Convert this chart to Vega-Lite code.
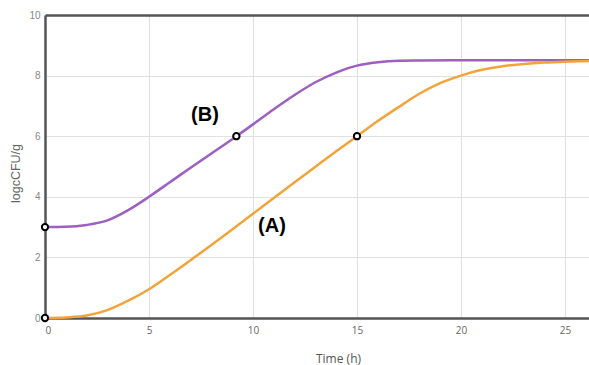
{
  "$schema": "https://vega.github.io/schema/vega-lite/v6.json",
  "width": 546,
  "height": 303,
  "autosize": "none",
  "padding": {"left": 45, "top": 15, "right": 0, "bottom": 47},
  "background": "white",
  "config": {"view": {"stroke": null}},
  "datasets": {
    "curves": [
      {"t": 0, "v": 3.0, "series": "B"}, {"t": 1, "v": 3.01, "series": "B"}, {"t": 2, "v": 3.07, "series": "B"},
      {"t": 3, "v": 3.22, "series": "B"}, {"t": 4, "v": 3.56, "series": "B"}, {"t": 5, "v": 4.0, "series": "B"},
      {"t": 6, "v": 4.48, "series": "B"}, {"t": 7, "v": 4.96, "series": "B"}, {"t": 8, "v": 5.43, "series": "B"},
      {"t": 9, "v": 5.9, "series": "B"}, {"t": 10, "v": 6.39, "series": "B"}, {"t": 11, "v": 6.89, "series": "B"},
      {"t": 12, "v": 7.36, "series": "B"}, {"t": 13, "v": 7.78, "series": "B"}, {"t": 14, "v": 8.1, "series": "B"},
      {"t": 15, "v": 8.33, "series": "B"}, {"t": 16, "v": 8.44, "series": "B"}, {"t": 17, "v": 8.49, "series": "B"},
      {"t": 18, "v": 8.5, "series": "B"}, {"t": 20, "v": 8.51, "series": "B"}, {"t": 23, "v": 8.51, "series": "B"},
      {"t": 26.3, "v": 8.51, "series": "B"},
      {"t": 0, "v": 0.0, "series": "A"}, {"t": 1, "v": 0.02, "series": "A"}, {"t": 2, "v": 0.08, "series": "A"},
      {"t": 3, "v": 0.26, "series": "A"}, {"t": 4, "v": 0.57, "series": "A"}, {"t": 5, "v": 0.95, "series": "A"},
      {"t": 6, "v": 1.42, "series": "A"}, {"t": 7, "v": 1.91, "series": "A"}, {"t": 8, "v": 2.41, "series": "A"},
      {"t": 9, "v": 2.92, "series": "A"}, {"t": 10, "v": 3.44, "series": "A"}, {"t": 11, "v": 3.96, "series": "A"},
      {"t": 12, "v": 4.48, "series": "A"}, {"t": 13, "v": 4.99, "series": "A"}, {"t": 14, "v": 5.5, "series": "A"},
      {"t": 15, "v": 6.0, "series": "A"}, {"t": 16, "v": 6.5, "series": "A"}, {"t": 17, "v": 6.96, "series": "A"},
      {"t": 18, "v": 7.4, "series": "A"}, {"t": 19, "v": 7.75, "series": "A"}, {"t": 20, "v": 8.0, "series": "A"},
      {"t": 21, "v": 8.19, "series": "A"}, {"t": 22, "v": 8.31, "series": "A"}, {"t": 23, "v": 8.38, "series": "A"},
      {"t": 24, "v": 8.43, "series": "A"}, {"t": 25, "v": 8.46, "series": "A"}, {"t": 26.3, "v": 8.48, "series": "A"}
    ],
    "points": [
      {"t": 0, "v": 3.0, "series": "B"}, {"t": 9.2, "v": 6.0, "series": "B"},
      {"t": 0, "v": 0.0, "series": "A"}, {"t": 15, "v": 6.0, "series": "A"}
    ],
    "labels": [
      {"t": 7.69, "v": 6.7, "label": "(B)"},
      {"t": 10.91, "v": 3.05, "label": "(A)"}
    ]
  },
  "resolve": {"axis": {"x": "independent"}},
  "layer": [
    {
      "data": {"name": "curves"},
      "mark": {"type": "line", "interpolate": "monotone", "strokeWidth": 2.5},
      "encoding": {
        "x": {
          "field": "t", "type": "quantitative",
          "scale": {"domain": [0, 26.25], "nice": false, "zero": false},
          "axis": {
            "orient": "bottom",
            "title": "Time (h)", "values": [0, 5, 10, 15, 20, 25],
            "grid": true, "gridColor": "#e0e0e0", "gridWidth": 1,
            "domainColor": "#555555", "domainWidth": 2.5, "ticks": false,
            "labelFont": "Open Sans", "labelFontSize": 10, "labelColor": "#666666", "labelPadding": 7,
            "titleFont": "Open Sans", "titleFontSize": 12, "titleFontWeight": "normal", "titleColor": "#555555",
            "titleX": 293, "titleY": 44, "titleBaseline": "alphabetic", "titleAlign": "center"
          }
        },
        "y": {
          "field": "v", "type": "quantitative",
          "scale": {"domain": [0, 10], "nice": false},
          "axis": {
            "title": "logcCFU/g", "values": [0, 2, 4, 6, 8, 10],
            "grid": true, "gridColor": "#e0e0e0", "gridWidth": 1,
            "domainColor": "#555555", "domainWidth": 2.5, "ticks": false,
            "labelFont": "Liberation Sans", "labelFontSize": 10, "labelColor": "#888888", "labelPadding": 5,
            "titleFont": "Liberation Sans", "titleFontSize": 12.5, "titleFontWeight": "normal", "titleColor": "#666666",
            "titleX": -30, "titleY": 158, "titleBaseline": "middle", "titleAlign": "center", "titleAngle": -90
          }
        },
        "color": {"field": "series", "type": "nominal", "scale": {"domain": ["A", "B"], "range": ["#f2a43a", "#9d5fc0"]}, "legend": null}
      }
    },
    {
      "data": {"name": "points"},
      "mark": {"type": "point", "shape": "circle", "filled": false, "fill": "white", "stroke": "black", "strokeWidth": 2, "size": 40, "opacity": 1, "clip": false},
      "encoding": {
        "x": {"field": "t", "type": "quantitative", "axis": {"orient": "top", "title": null, "labels": false, "ticks": false, "grid": false, "domainColor": "#555555", "domainWidth": 2.5}},
        "y": {"field": "v", "type": "quantitative"}
      }
    },
    {
      "data": {"name": "labels"},
      "mark": {"type": "text", "font": "Liberation Sans", "fontSize": 20, "fontWeight": "bold", "color": "black", "align": "center", "baseline": "middle"},
      "encoding": {
        "x": {"field": "t", "type": "quantitative", "axis": null},
        "y": {"field": "v", "type": "quantitative"},
        "text": {"field": "label"}
      }
    }
  ]
}
